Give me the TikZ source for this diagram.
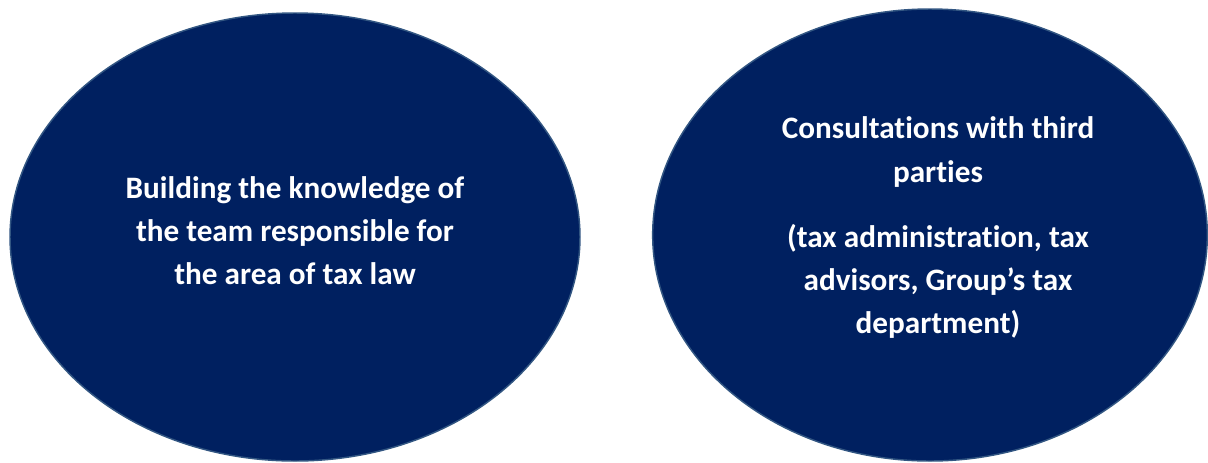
\documentclass[tikz,border=0pt]{standalone}
\usepackage{fontspec}
\setmainfont[Ligatures=NoCommon]{Carlito}
\usetikzlibrary{shapes.geometric}
\definecolor{navy}{RGB}{0,32,96}
\definecolor{rimblue}{RGB}{50,86,130}

\begin{document}
\begin{tikzpicture}[x=0.75pt, y=-0.75pt,
    bubble/.style={ellipse, draw=rimblue, line width=1.1pt, fill=navy, inner sep=0pt},
    bubbletext/.style={text=white, font=\bfseries\fontsize{23.4}{32.3}\selectfont, align=center}]
            \useasboundingbox (0,0) rectangle (1208,462);
            % Nodes
            \node[bubble, minimum width=427.5pt, minimum height=336pt] (knowledge) at (295,237) {};
            \node[bubble, minimum width=416pt, minimum height=339pt] (consult) at (930,235) {};
            \node[bubbletext] (knowledge_text) at (295,231) {Building the knowledge of\\the team responsible for\\the area of tax law};
            \node[bubbletext] (consult_head) at (938,152) {Consultations with third\\parties};
            \node[bubbletext] (consult_list) at (938,281) {(tax administration, tax\\advisors, Group’s tax\\department)};
        \end{tikzpicture}
\end{document}
